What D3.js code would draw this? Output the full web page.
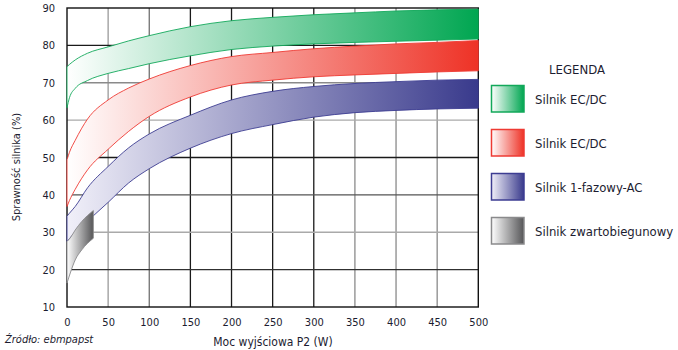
<!DOCTYPE html>
<html>
<head>
<meta charset="utf-8">
<script src="https://cdn.jsdelivr.net/npm/d3@7"></script>
<style>
  html, body { margin: 0; padding: 0; background: #fff; }
  svg { display: block; }
  text { font-family: "Liberation Sans Narrow", "DejaVu Sans Condensed", "Arial Narrow", sans-serif; fill: #1c1c30; }
</style>
</head>
<body>
<svg id="chart" width="678" height="350"></svg>
<script>
// Output power (W) at which the band edges are sampled
const powerW = [0, 3, 10, 25, 50, 75, 100, 150, 200, 250, 300, 350, 400, 450, 500];

// Efficiency (%) – upper and lower edge of each motor band
const ecdcGreenHi = [74.3, 74.9, 76.1, 77.9, 79.6, 81.2, 82.6, 85.0, 86.6, 87.5, 88.2, 88.7, 89.2, 89.5, 89.7];
const ecdcGreenLo = [63.3, 66.0, 68.5, 70.6, 72.5, 73.8, 75.1, 77.2, 78.9, 79.8, 80.4, 80.8, 81.1, 81.4, 81.7];
const ecdcRedHi   = [49.4, 51.4, 54.6, 60.3, 65.4, 68.6, 71.0, 74.6, 77.0, 78.1, 79.1, 79.8, 80.4, 80.8, 81.3];
const ecdcRedLo   = [36.9, 38.5, 41.5, 46.7, 52.2, 57.0, 61.0, 66.2, 69.4, 70.7, 71.6, 72.1, 72.5, 72.9, 73.2];
const acBlueHi    = [34.3, 35.1, 36.9, 41.9, 47.6, 52.6, 56.3, 61.3, 65.4, 67.7, 69.0, 69.8, 70.3, 70.7, 70.9];
const acBlueLo    = [27.5, 28.3, 30.0, 33.0, 38.0, 43.2, 47.0, 52.5, 56.4, 58.8, 60.8, 62.0, 62.6, 63.0, 63.2];

// Shaded-pole motor only covers the small-power range
const powerShaded = [0, 4, 10, 18, 32];
const shadedHi    = [27.5, 28.5, 30.6, 32.9, 35.8];
const shadedLo    = [16.4, 19.1, 22.6, 25.3, 28.4];

const legendLabels = ["Silnik EC/DC", "Silnik EC/DC", "Silnik 1-fazowy-AC", "Silnik zwartobiegunowy"];
const xTicks = [0, 50, 100, 150, 200, 250, 300, 350, 400, 450, 500];
const yTicks = [10, 20, 30, 40, 50, 60, 70, 80, 90];

const svg = d3.select("#chart");
const x = d3.scaleLinear().domain([0, 500]).range([67, 478.3]);
const y = d3.scaleLinear().domain([10, 90]).range([307, 8]);

// band styles: gradient end colour and outline colour
const bands = [
  { id: "g", hi: ecdcGreenHi, lo: ecdcGreenLo, xs: powerW, c0: "#ffffff", c1: "#00a651", stroke: "#12a85a" },
  { id: "r", hi: ecdcRedHi,   lo: ecdcRedLo,   xs: powerW, c0: "#ffffff", c1: "#ee3226", stroke: "#ee3a33" },
  { id: "b", hi: acBlueHi,    lo: acBlueLo,    xs: powerW, c0: "#f1f0f9", c1: "#393a8c", stroke: "#3d3d92" },
  { id: "k", hi: shadedHi,    lo: shadedLo,    xs: powerShaded, c0: "#ffffff", c1: "#555557", stroke: "#8a8a8c" }
];

const defs = svg.append("defs");
bands.forEach(b => {
  const xEnd = b.xs[b.xs.length - 1];
  const g = defs.append("linearGradient").attr("id", "grad-" + b.id)
    .attr("gradientUnits", "userSpaceOnUse")
    .attr("x1", x(0)).attr("x2", x(xEnd)).attr("y1", 0).attr("y2", 0);
  g.append("stop").attr("offset", 0).attr("stop-color", b.c0);
  g.append("stop").attr("offset", 1).attr("stop-color", b.c1);
  const lg = defs.append("linearGradient").attr("id", "lgrad-" + b.id)
    .attr("x1", 0).attr("x2", 1).attr("y1", 0).attr("y2", 0);
  lg.append("stop").attr("offset", 0).attr("stop-color", b.c0);
  lg.append("stop").attr("offset", 1).attr("stop-color", b.c1);
});

// grid
const vGridColor = { 50: "#9a9a9a", 100: "#707070", 150: "#1a1a1a", 200: "#1a1a1a", 250: "#1a1a1a", 300: "#1a1a1a", 350: "#8a8a8a", 400: "#8a8a8a", 450: "#8a8a8a" };
const hGridColor = { 20: "#303030", 30: "#aaaaaa", 40: "#555555", 50: "#1a1a1a", 60: "#aaaaaa", 70: "#8a8a8a", 80: "#1a1a1a" };
const grid = svg.append("g");
grid.selectAll("line.v").data(xTicks.slice(1, -1)).join("line")
  .attr("x1", d => x(d)).attr("x2", d => x(d)).attr("y1", y(90)).attr("y2", y(10))
  .attr("stroke", d => vGridColor[d]).attr("stroke-width", 1.3);
grid.selectAll("line.h").data(yTicks.slice(1, -1)).join("line")
  .attr("x1", x(0)).attr("x2", x(500)).attr("y1", d => y(d)).attr("y2", d => y(d))
  .attr("stroke", d => hGridColor[d]).attr("stroke-width", 1.3);

// frame
svg.append("rect").attr("x", x(0)).attr("y", y(90))
  .attr("width", x(500) - x(0)).attr("height", y(10) - y(90))
  .attr("fill", "none").attr("stroke", "#111").attr("stroke-width", 1.4);

// efficiency bands
const area = d3.area().curve(d3.curveMonotoneX)
  .x(d => x(d.p)).y0(d => y(d.lo)).y1(d => y(d.hi));
bands.forEach(b => {
  const pts = b.xs.map((p, i) => ({ p, hi: b.hi[i], lo: b.lo[i] }));
  svg.append("path").datum(pts).attr("d", area)
    .attr("fill", "url(#grad-" + b.id + ")")
    .attr("stroke", b.stroke).attr("stroke-width", 0.9);
});

// axes tick labels
const xAxis = svg.append("g").attr("transform", `translate(0,${y(10) + 9})`)
  .call(d3.axisBottom(x).tickValues(xTicks).tickSize(0).tickPadding(2).tickFormat(d3.format("d")));
const yAxis = svg.append("g").attr("transform", `translate(${x(0) - 10},0)`)
  .call(d3.axisLeft(y).tickValues(yTicks).tickSize(0).tickPadding(2).tickFormat(d3.format("d")));
[xAxis, yAxis].forEach(a => {
  a.select(".domain").remove();
  a.selectAll("text").style("font-family", null).attr("font-size", 11).attr("fill", "#1c1c30");
});

// axis titles and source
svg.append("text").attr("x", 273).attr("y", 345.5).attr("text-anchor", "middle")
  .attr("font-size", 12).text("Moc wyjściowa P2 (W)");
svg.append("text").attr("transform", "translate(20,167) rotate(-90)").attr("text-anchor", "middle")
  .attr("font-size", 11).text("Sprawność silnika (%)");
svg.append("text").attr("x", 5).attr("y", 343).attr("font-size", 11).attr("font-style", "italic")
  .text("Źródło: ebmpapst");

// legend
const legend = svg.append("g");
legend.append("text").attr("x", 577).attr("y", 74).attr("text-anchor", "middle")
  .attr("font-size", 13).text("LEGENDA");
const items = legend.selectAll("g.item").data(bands).join("g")
  .attr("transform", (d, i) => `translate(491.5,${85.5 + i * 44})`);
items.append("rect").attr("width", 32.5).attr("height", 26.5)
  .attr("fill", d => "url(#lgrad-" + d.id + ")")
  .attr("stroke", d => d.stroke).attr("stroke-width", 1.5);
items.append("text").attr("x", 43.5).attr("y", 13.5).attr("dy", "0.35em")
  .attr("font-size", 13).text((d, i) => legendLabels[i]);
</script>
</body>
</html>
